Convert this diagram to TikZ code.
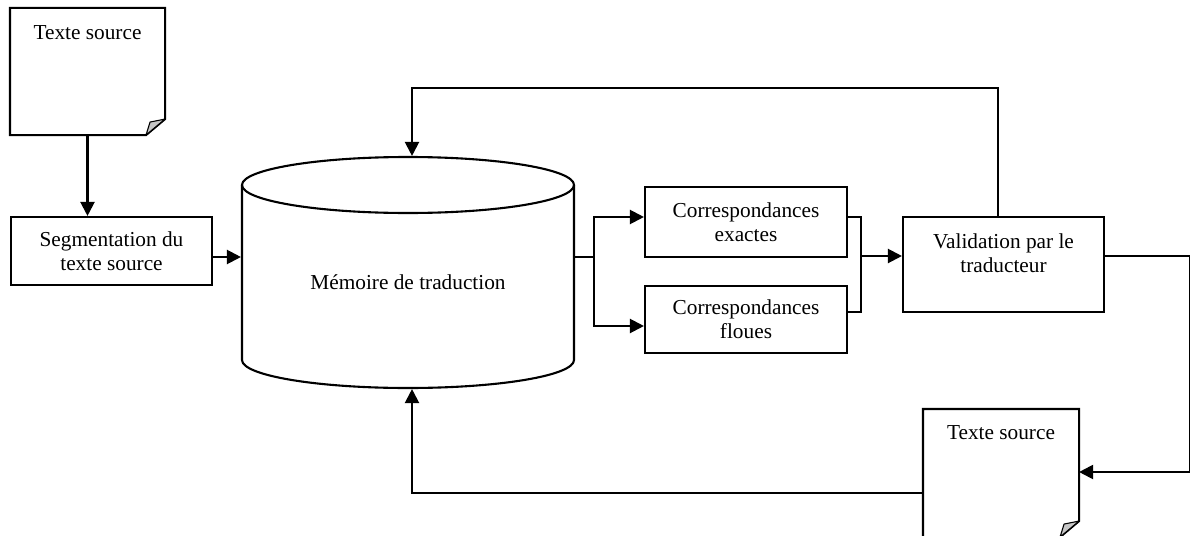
\documentclass[tikz,border=0pt]{standalone}
\usepackage{fontspec}
\setmainfont{Liberation Serif}
\usetikzlibrary{arrows.meta,calc}

% Outline of a "document" sheet with a folded bottom-right corner
\newcommand{\docsheet}[1]{%
  \draw[sheet] (#1.south west) -- (#1.north west) -- (#1.north east)
    -- ([yshift=16pt]#1.south east) -- ([xshift=-19pt]#1.south east) -- cycle;
  \filldraw[fold] ([xshift=-19pt]#1.south east)
    .. controls ([xshift=-17pt,yshift=7pt]#1.south east) .. ([xshift=-15pt,yshift=13pt]#1.south east)
    -- ([yshift=16pt]#1.south east) -- cycle;}

\begin{document}
\begin{tikzpicture}[x=1pt,y=-1pt,
  font=\fontsize{21.3}{24}\selectfont,
  line width=2.1pt,
  arr/.style={-{Triangle[length=14pt,width=14pt]}},
  procbox/.style={draw, rectangle, inner sep=0pt, align=center,
                  minimum width=#1, line width=2.1pt},
  holder/.style={rectangle, inner sep=0pt},
  sheet/.style={line width=2.1pt, line join=miter},
  fold/.style={fill=gray!45, draw=black, line width=1.1pt, line join=round},
  label/.style={align=center, inner sep=0pt}]

\useasboundingbox (0,0) rectangle (1190,535);

% ---- nodes ----
\node[holder, minimum width=153pt, minimum height=125pt] (doc1) at (87.5,71.5) {};
\docsheet{doc1}
\node[label] at (87.5,33) {Texte source};

\node[procbox=201pt, minimum height=68pt] (seg) at (111.5,251)
  {Segmentation du\\texte source};

% translation memory drawn as a cylinder
\node[holder, minimum width=332pt, minimum height=231pt] (cyl) at (408,272.5) {};
\draw (242,185) -- (242,360) arc[start angle=180, end angle=0, x radius=166, y radius=28] -- (574,185);
\draw (408,185) ellipse[x radius=166, y radius=28];
\node[label] at (408,282) {Mémoire de traduction};

\node[procbox=202pt, minimum height=70pt] (exact) at (746,222)
  {Correspondances\\exactes};
\node[procbox=202pt, minimum height=67pt] (floues) at (746,319.5)
  {Correspondances\\floues};

\node[procbox=201pt, minimum height=95pt] (valid) at (1003.5,264.5) {};
\node[label] at (1003.5,253) {Validation par le\\traducteur};

\node[holder, minimum width=154pt, minimum height=126pt] (doc2) at (1001,473) {};
\docsheet{doc2}
\node[label] at (1001,433) {Texte source};

% ---- routing points ----
\coordinate (lvl)   at (0,257);
\coordinate (split) at (594,257);
\coordinate (merge) at (861,256);
\coordinate (top)   at (412,88);
\coordinate (rc)    at (1189.6,472);
\coordinate (bl)    at (412,493);

% ---- connectors ----
\draw[arr] (doc1.south) -- (doc1.south |- seg.north);
\draw[arr] (seg.east |- lvl) -- (cyl.west |- lvl);

\draw (cyl.east |- split) -- (split);
\draw[arr] (split) |- ([yshift=5pt]exact.west);
\draw[arr] (split) |- ([yshift=-6.5pt]floues.west);

\draw ([yshift=5pt]exact.east) -| (merge);
\draw ([yshift=7.5pt]floues.east) -| (merge);
\draw[arr] (merge) -- (valid.west |- merge);

\draw[arr] ([xshift=-5.5pt]valid.north) |- (top) -- (top |- cyl.north);

\draw[arr] ([yshift=8.5pt]valid.east) -| (rc) -- (rc -| doc2.east);
\draw[arr] ([yshift=-20pt]doc2.west) -- (bl) -- (bl |- cyl.south);
\end{tikzpicture}
\end{document}
